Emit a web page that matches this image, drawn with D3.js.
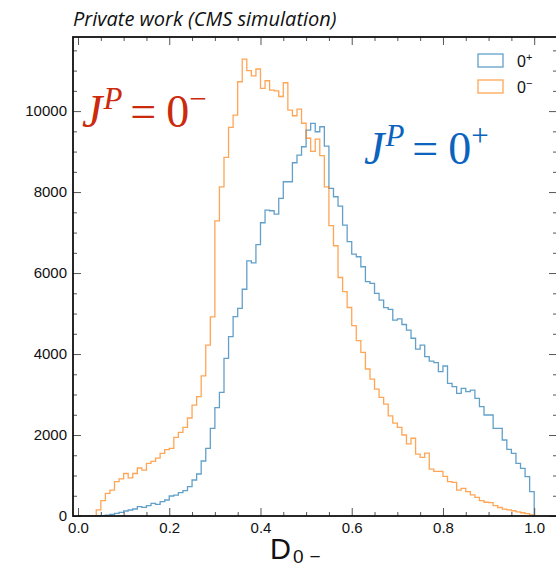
<!DOCTYPE html>
<html>
<head>
<meta charset="utf-8">
<script src="https://cdn.jsdelivr.net/npm/d3@7"></script>
<style>
  html, body { margin: 0; padding: 0; background: #fff; }
  svg { display: block; }
</style>
</head>
<body>
<svg id="chart" width="556" height="568"></svg>
<script>
// Bin width of both histograms (100 bins on [0, 1])
const binWidth = 0.01;

// Event counts per bin, D_0- discriminant, 0+ hypothesis
const zeroPlus = [
  0, 0, 0, 0, 0, 8, 20, 40, 65, 90,
  123, 148, 173, 230, 214, 255, 313, 288, 354, 395,
  494, 518, 576, 626, 724, 889, 1037, 1358, 1670, 2165,
  2675, 3053, 3893, 4428, 4922, 5128, 5600, 6300, 6250, 6700,
  7243, 7556, 7539, 7457, 7844, 8255, 8255, 8724, 8914, 9119,
  9531, 9695, 9490, 9613, 9136, 8091, 7885, 7654, 7185, 6774,
  6469, 6403, 6156, 5786, 5745, 5498, 5333, 5144, 5103, 4840,
  4870, 4730, 4590, 4390, 4120, 4222, 3934, 3827, 3786, 3564,
  3704, 3276, 3193, 3029, 3152, 3070, 3111, 2905, 2700, 2494,
  2494, 2165, 2165, 1877, 1646, 1547, 1300, 1177, 971, 601
];

// Event counts per bin, D_0- discriminant, 0- hypothesis
const zeroMinus = [
  0, 0, 0, 0, 150, 380, 560, 640, 850, 915,
  1050, 940, 1050, 1185, 1135, 1300, 1350, 1430, 1545, 1640,
  1670, 1940, 2065, 2190, 2420, 2740, 2950, 3460, 4220, 4920,
  7290, 8130, 8855, 9600, 9900, 10725, 11285, 11000, 10870, 11040,
  10560, 10750, 10520, 10500, 10360, 10700, 10025, 9885, 10050, 9700,
  9330, 9005, 9310, 8900, 8130, 7170, 6675, 5890, 5540, 5150,
  4700, 4330, 4040, 3630, 3380, 3135, 2930, 2765, 2475, 2295,
  2190, 2000, 1780, 1920, 1530, 1450, 1555, 1160, 1100, 1100,
  980, 850, 830, 640, 680, 600, 520, 460, 380, 340,
  330, 255, 210, 170, 150, 130, 100, 80, 60, 30
];

// Axis ticks
const xMajorTicks = [0.0, 0.2, 0.4, 0.6, 0.8, 1.0];
const xMinorStep = 0.05;
const yMajorTicks = [0, 2000, 4000, 6000, 8000, 10000];
const yMinorStep = 500;

// Legend entries
const legendLabels = ["0", "0"];
const legendSup = ["+", "\u2212"];

const seriesColors = ["#1f77b4", "#ff7f0e"];

const svg = d3.select("#chart");
const frame = { left: 73, right: 557, top: 37, bottom: 516 };

const x = d3.scaleLinear().domain([-0.011, 1.05]).range([frame.left, frame.right]);
const y = d3.scaleLinear().domain([0, 11830]).range([frame.bottom, frame.top]);

const sansFont = "'Liberation Sans', Arial, Helvetica, sans-serif";
const serifFont = "'Liberation Serif', 'Times New Roman', serif";

// Clip for plot contents
svg.append("defs").append("clipPath").attr("id", "plotClip")
  .append("rect")
  .attr("x", frame.left).attr("y", frame.top)
  .attr("width", frame.right - frame.left).attr("height", frame.bottom - frame.top);

// Step outline of a histogram
function stepPoints(counts) {
  const pts = [[0, 0]];
  counts.forEach((c, i) => pts.push([i * binWidth, c]));
  pts.push([counts.length * binWidth, 0]);
  return pts;
}
const stepLine = d3.line()
  .x(d => x(d[0]))
  .y(d => y(d[1]))
  .curve(d3.curveStepAfter);

const plot = svg.append("g").attr("clip-path", "url(#plotClip)");
[zeroPlus, zeroMinus].forEach((counts, k) => {
  plot.append("path")
    .attr("d", stepLine(stepPoints(counts)))
    .attr("fill", "none")
    .attr("stroke", seriesColors[k])
    .attr("stroke-opacity", 0.7)
    .attr("stroke-width", 1.3)
    .attr("stroke-linejoin", "miter");
});

// Inward ticks on all four sides
const tickColor = "#555";
const xMinor = d3.range(0, 1.0001, xMinorStep).filter(v => !xMajorTicks.some(t => Math.abs(t - v) < 1e-6));
const yMinor = d3.range(0, 11830, yMinorStep).filter(v => !yMajorTicks.includes(v));

const axisBottom = d3.axisBottom(x).tickValues(xMajorTicks).tickSize(-8).tickPadding(6)
  .tickFormat(d3.format(".1f"));
const gxb = svg.append("g").attr("transform", `translate(0,${frame.bottom})`).call(axisBottom);
const gxbMinor = svg.append("g").attr("transform", `translate(0,${frame.bottom})`)
  .call(d3.axisBottom(x).tickValues(xMinor).tickSize(-4).tickFormat(""));
const gxt = svg.append("g").attr("transform", `translate(0,${frame.top})`)
  .call(d3.axisTop(x).tickValues(xMajorTicks).tickSize(-8).tickFormat(""));
const gxtMinor = svg.append("g").attr("transform", `translate(0,${frame.top})`)
  .call(d3.axisTop(x).tickValues(xMinor).tickSize(-4).tickFormat(""));

const axisLeft = d3.axisLeft(y).tickValues(yMajorTicks).tickSize(-8).tickPadding(6)
  .tickFormat(d3.format("d"));
const gyl = svg.append("g").attr("transform", `translate(${frame.left},0)`).call(axisLeft);
const gylMinor = svg.append("g").attr("transform", `translate(${frame.left},0)`)
  .call(d3.axisLeft(y).tickValues(yMinor).tickSize(-4).tickFormat(""));
const gyr = svg.append("g").attr("transform", `translate(${frame.right},0)`)
  .call(d3.axisRight(y).tickValues(yMajorTicks).tickSize(-8).tickFormat(""));
const gyrMinor = svg.append("g").attr("transform", `translate(${frame.right},0)`)
  .call(d3.axisRight(y).tickValues(yMinor).tickSize(-4).tickFormat(""));

[gxb, gxbMinor, gxt, gxtMinor, gyl, gylMinor, gyr, gyrMinor].forEach(g => {
  g.select(".domain").remove();
  g.selectAll(".tick line").attr("stroke", tickColor).attr("stroke-width", 1);
  g.selectAll(".tick text").attr("fill", "#111")
    .style("font-family", sansFont).style("font-size", "15px");
});

// Frame
svg.append("rect")
  .attr("x", frame.left).attr("y", frame.top)
  .attr("width", frame.right - frame.left).attr("height", frame.bottom - frame.top)
  .attr("fill", "none").attr("stroke", "#111").attr("stroke-width", 1.8);

// Legend
const legend = svg.append("g");
legendLabels.forEach((lab, i) => {
  const ly = 54 + i * 26;
  legend.append("rect")
    .attr("x", 478).attr("y", ly).attr("width", 25).attr("height", 13)
    .attr("fill", "#fff").attr("stroke", seriesColors[i])
    .attr("stroke-opacity", 0.7).attr("stroke-width", 1.3);
  const t = legend.append("text")
    .attr("x", 517).attr("y", ly + 13)
    .style("font-family", sansFont).style("font-size", "16px").attr("fill", "#111");
  t.append("tspan").text(lab);
  t.append("tspan").attr("dy", -6).style("font-size", "11px").text(legendSup[i]);
});

// Hypothesis labels J^P = 0^-, J^P = 0^+
function spinParity(xp, yp, sign, color) {
  const t = svg.append("text").attr("x", xp).attr("y", yp)
    .style("font-family", serifFont).style("font-size", "46px").attr("fill", color);
  t.append("tspan").style("font-style", "italic").text("J");
  t.append("tspan").style("font-style", "italic").style("font-size", "31px").attr("dy", -18).attr("dx", 1).text("P");
  t.append("tspan").attr("dy", 18).attr("dx", 8).text("=");
  t.append("tspan").attr("dx", 10).text("0");
  t.append("tspan").style("font-size", "31px").attr("dy", -18).text(sign);
}
spinParity(82, 127, "\u2212", "#cc2a0c");
spinParity(364, 164, "+", "#0b63bd");

// Title
svg.append("text").attr("x", 73).attr("y", 26)
  .style("font-family", "'Open Sans', 'Noto Sans', sans-serif")
  .style("font-style", "italic").style("font-size", "20px").attr("fill", "#111")
  .text("Private work (CMS simulation)");

// X axis title D_{0-}
const xt = svg.append("text").attr("x", 270).attr("y", 559)
  .style("font-family", sansFont).style("font-size", "29px").attr("fill", "#111");
xt.append("tspan").text("D");
xt.append("tspan").attr("dy", 4).attr("dx", 2).style("font-size", "19px").text("0");
xt.append("tspan").attr("dx", 6).style("font-size", "19px").text("\u2212");
</script>
</body>
</html>
